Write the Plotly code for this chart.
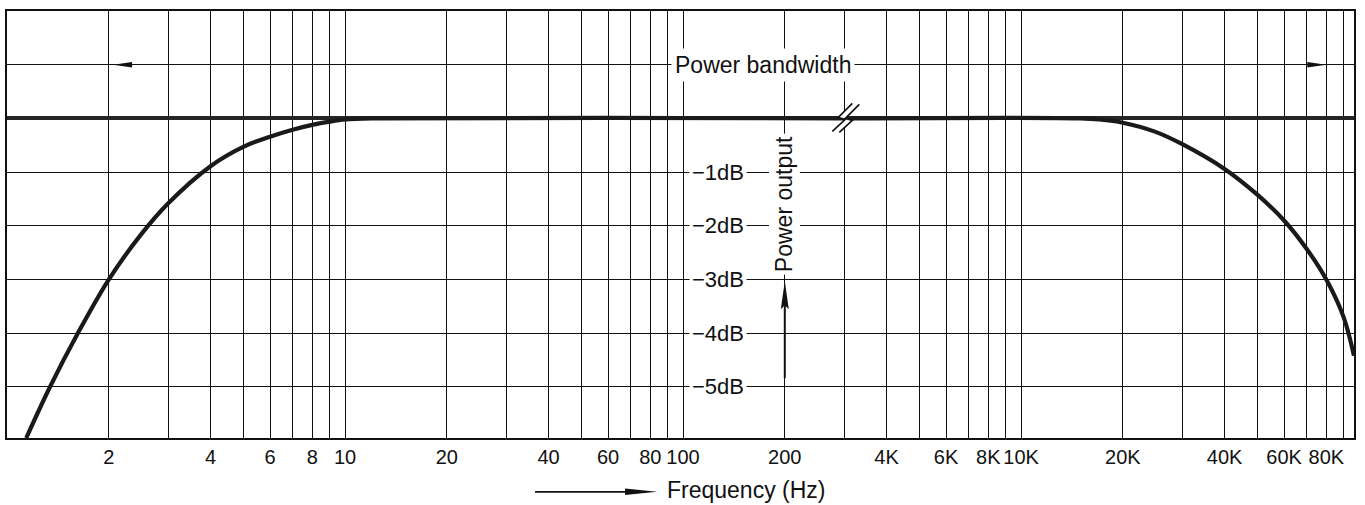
import math
import plotly.graph_objects as go

# ---------------- data ----------------
freq_hz = [1.14, 1.34, 1.62, 2.0, 2.5, 3.0, 4.0, 5.0, 6.0, 7.0, 8.0, 9.0, 10.0, 12.0,
           300.0, 3000.0, 15000.0, 17000.0, 20000.0, 25000.0, 30000.0, 40000.0, 50000.0,
           60000.0, 70000.0, 80000.0, 90000.0, 96600.0]
output_db = [-5.95, -5.0, -4.0, -3.0, -2.15, -1.58, -0.89, -0.53, -0.34, -0.21, -0.12, -0.06, -0.02, 0.0,
             0.0, 0.0, 0.0, -0.02, -0.08, -0.25, -0.48, -0.94, -1.42,
             -1.9, -2.43, -3.0, -3.7, -4.42]

grid_hz = [1, 2, 3, 4, 5, 6, 7, 8, 9, 10, 20, 30, 40, 50, 60, 70, 80, 90, 100, 200, 300,
           4000, 5000, 6000, 7000, 8000, 9000, 10000, 20000, 30000, 40000, 50000, 60000,
           70000, 80000, 90000]
tick_hz = [2, 4, 6, 8, 10, 20, 40, 60, 80, 100, 200, 4000, 6000, 8000, 10000, 20000, 40000, 60000, 80000]
tick_labels = ["2", "4", "6", "8", "10", "20", "40", "60", "80", "100", "200",
               "4K", "6K", "8K", "10K", "20K", "40K", "60K", "80K"]
db_levels = [-1, -2, -3, -4, -5]
db_labels = ["\u22121dB", "\u22122dB", "\u22123dB", "\u22124dB", "\u22125dB"]
bandwidth_hz = [2.06, 80000]

# axis break: 300 Hz on the low side joins 3 kHz on the high side
BREAK_LOW, BREAK_HIGH = 300.0, 3000.0


def to_axis(f):
    return f if f <= BREAK_LOW else f / (BREAK_HIGH / BREAK_LOW)


x_plot = [to_axis(f) for f in freq_hz]
grid_u = [to_axis(f) for f in grid_hz]
label_map = {to_axis(f): t for f, t in zip(tick_hz, tick_labels)}
grid_text = [label_map.get(u, "") for u in grid_u]

FONT = "Liberation Sans, Arial, Helvetica, sans-serif"
INK = "#111111"

fig = go.Figure()
fig.add_trace(go.Scatter(
    x=x_plot, y=output_db, mode="lines",
    line=dict(color="#1a1a1a", width=4.2, shape="spline", smoothing=1.0),
    hoverinfo="skip", showlegend=False,
))

shapes = []
# bandwidth arrowheads
shapes.append(dict(type="path", xref="x", yref="y", xsizemode="pixel", ysizemode="pixel",
                   xanchor=to_axis(bandwidth_hz[0]), yanchor=1,
                   path="M 0,0 L 19,2.8 L 19,-2.8 Z", fillcolor=INK, line=dict(width=0)))
shapes.append(dict(type="path", xref="x", yref="y", xsizemode="pixel", ysizemode="pixel",
                   xanchor=to_axis(bandwidth_hz[1]), yanchor=1,
                   path="M 0,0 L -19,2.8 L -19,-2.8 Z", fillcolor=INK, line=dict(width=0)))
# power output arrow (shaft + head), tip at -3 dB on the 200 Hz line
shapes.append(dict(type="path", xref="x", yref="y", xsizemode="pixel", ysizemode="pixel",
                   xanchor=200, yanchor=-3.03,
                   path="M 0,-20 L 0,-97", line=dict(color=INK, width=2)))
shapes.append(dict(type="path", xref="x", yref="y", xsizemode="pixel", ysizemode="pixel",
                   xanchor=200, yanchor=-3.03,
                   path="M 0,0 L -4,-28 L 0,-24 L 4,-28 Z", fillcolor=INK, line=dict(width=0)))
# axis-break symbol on the 0 dB line (two parallel zig-zags)
s1 = [(8, 15), (-6, 1), (1, -1), (-12, -13)]
s2 = [(x + 7, y - 1) for x, y in s1]
poly = "M " + " L ".join(f"{x},{y}" for x, y in s1 + s2[::-1]) + " Z"
shapes.append(dict(type="path", xref="x", yref="y", xsizemode="pixel", ysizemode="pixel",
                   xanchor=BREAK_LOW, yanchor=0, path=poly, fillcolor="white", line=dict(width=0)))
for s in (s1, s2):
    shapes.append(dict(type="path", xref="x", yref="y", xsizemode="pixel", ysizemode="pixel",
                       xanchor=BREAK_LOW, yanchor=0,
                       path="M " + " L ".join(f"{x},{y}" for x, y in s),
                       line=dict(color=INK, width=1.6)))
# frequency arrow below the axis
shapes.append(dict(type="path", xref="paper", yref="paper", xsizemode="pixel", ysizemode="pixel",
                   xanchor=0.4826, yanchor=-0.126,
                   path="M -122,0 L -26,0", line=dict(color=INK, width=1.8)))
shapes.append(dict(type="path", xref="paper", yref="paper", xsizemode="pixel", ysizemode="pixel",
                   xanchor=0.4826, yanchor=-0.126,
                   path="M 0,0 L -32,3.2 L -32,-3.2 Z", fillcolor=INK, line=dict(width=0)))

annotations = []
annotations.append(dict(x=2.237, y=1, xref="x", yref="y", text="Power bandwidth", showarrow=False,
                        font=dict(size=23, color=INK, family=FONT), bgcolor="white", borderpad=3))
for lvl, txt in zip(db_levels, db_labels):
    annotations.append(dict(x=2.1036, y=lvl, xref="x", yref="y", text=txt, showarrow=False,
                            font=dict(size=22, color=INK, family=FONT), bgcolor="white", borderpad=2))
annotations.append(dict(x=math.log10(200), y=-1.6, xref="x", yref="y", text="Power output",
                        showarrow=False, textangle=-90,
                        font=dict(size=23, color=INK, family=FONT), bgcolor="white", borderpad=2))
annotations.append(dict(x=0.4885, y=-0.1218, xref="paper", yref="paper", text="Frequency (Hz)",
                        showarrow=False, xanchor="left", yanchor="middle",
                        font=dict(size=23, color=INK, family=FONT)))

fig.update_layout(
    width=1365, height=505,
    margin=dict(l=7, r=11, t=11, b=67),
    paper_bgcolor="white", plot_bgcolor="white",
    shapes=shapes, annotations=annotations,
    showlegend=False,
    xaxis=dict(type="log", range=[0, 3.985], tickvals=grid_u, ticktext=grid_text,
               showgrid=True, gridcolor=INK, gridwidth=1.3, ticks="",
               showline=True, mirror=True, linecolor=INK, linewidth=2.2,
               tickfont=dict(size=20, color=INK, family=FONT), ticklabelstandoff=0,
               zeroline=False, fixedrange=True),
    yaxis=dict(range=[-5.95, 2.0], tickvals=[-5, -4, -3, -2, -1, 0, 1], showticklabels=False,
               showgrid=True, gridcolor=INK, gridwidth=1.3, ticks="",
               zeroline=True, zerolinecolor="#262626", zerolinewidth=4.2,
               showline=True, mirror=True, linecolor=INK, linewidth=2.2, fixedrange=True),
)

fig.write_html("out.html", config={"displayModeBar": False},
               post_script="document.body.style.margin='0';")
